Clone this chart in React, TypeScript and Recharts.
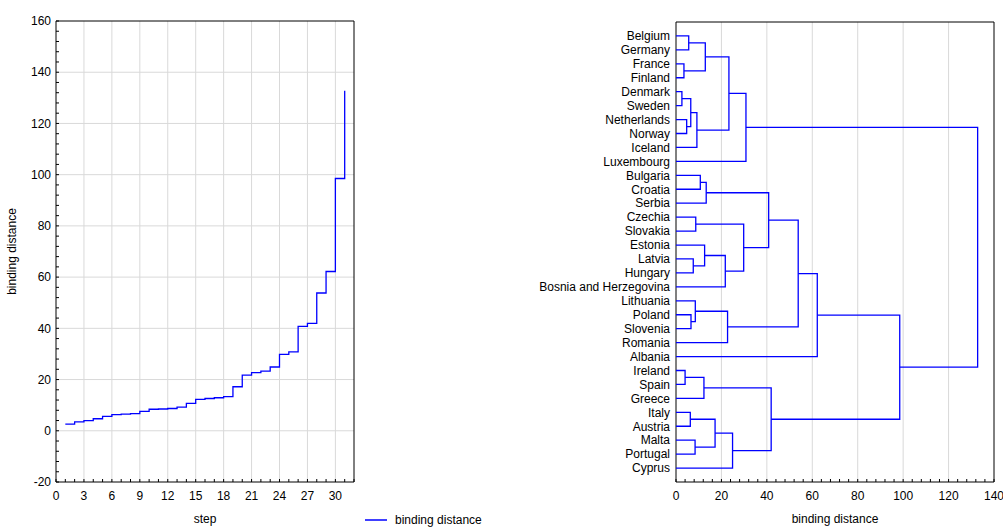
import React from 'react';
import { ComposedChart, Line, Scatter, XAxis, YAxis, CartesianGrid, Legend } from 'recharts';

const FONT = 'Arial, "Liberation Sans", Helvetica, sans-serif';
const BLUE = '#0000ff';
const GRID = '#d9d9d9';
const INK = '#000';

// agglomeration schedule (left panel)
const steps = [1, 2, 3, 4, 5, 6, 7, 8, 9, 10, 11, 12, 13, 14, 15, 16, 17, 18, 19, 20, 21, 22, 23, 24, 25, 26, 27, 28, 29, 30, 31];
const bindingDistance = [
  2.6, 3.5, 4.0, 4.7, 5.6, 6.3, 6.5, 6.7, 7.6, 8.4, 8.5, 8.7, 9.2, 10.7, 12.3, 12.6,
  12.9, 13.3, 17.2, 21.7, 22.7, 23.3, 24.9, 29.8, 30.8, 40.8, 41.9, 53.8, 62.2, 98.5, 132.8,
];

// dendrogram leaves, top to bottom
const countries = [
  'Belgium', 'Germany', 'France', 'Finland', 'Denmark', 'Sweden', 'Netherlands', 'Norway',
  'Iceland', 'Luxembourg', 'Bulgaria', 'Croatia', 'Serbia', 'Czechia', 'Slovakia', 'Estonia',
  'Latvia', 'Hungary', 'Bosnia and Herzegovina', 'Lithuania', 'Poland', 'Slovenia', 'Romania',
  'Albania', 'Ireland', 'Spain', 'Greece', 'Italy', 'Austria', 'Malta', 'Portugal', 'Cyprus',
];

// cluster id, first member, second member, binding distance
const merges: [string, string, string, number][] = [
  ['c1', 'Belgium', 'Germany', 5.6],
  ['c2', 'France', 'Finland', 3.5],
  ['c3', 'c1', 'c2', 12.9],
  ['c4', 'Denmark', 'Sweden', 2.6],
  ['c5', 'Netherlands', 'Norway', 4.7],
  ['c6', 'c4', 'c5', 6.5],
  ['c7', 'c6', 'Iceland', 9.2],
  ['c8', 'c3', 'c7', 23.3],
  ['c9', 'c8', 'Luxembourg', 30.8],
  ['c10', 'Bulgaria', 'Croatia', 10.7],
  ['c11', 'c10', 'Serbia', 13.3],
  ['c12', 'Czechia', 'Slovakia', 8.7],
  ['c13', 'Latvia', 'Hungary', 7.6],
  ['c14', 'Estonia', 'c13', 12.6],
  ['c15', 'c14', 'Bosnia and Herzegovina', 21.7],
  ['c16', 'c12', 'c15', 29.8],
  ['c17', 'c11', 'c16', 40.8],
  ['c18', 'Poland', 'Slovenia', 6.6],
  ['c19', 'Lithuania', 'c18', 8.5],
  ['c20', 'c19', 'Romania', 22.7],
  ['c21', 'c17', 'c20', 53.8],
  ['c22', 'c21', 'Albania', 62.2],
  ['c23', 'Ireland', 'Spain', 4.0],
  ['c24', 'c23', 'Greece', 12.3],
  ['c25', 'Italy', 'Austria', 6.3],
  ['c26', 'Malta', 'Portugal', 8.4],
  ['c27', 'c25', 'c26', 17.2],
  ['c28', 'c27', 'Cyprus', 24.9],
  ['c29', 'c24', 'c28', 41.9],
  ['c30', 'c22', 'c29', 98.5],
  ['c31', 'c9', 'c30', 132.8],
];

// tick labels
const stepTicks = [0, 3, 6, 9, 12, 15, 18, 21, 24, 27, 30];
const distTicks = [-20, 0, 20, 40, 60, 80, 100, 120, 140, 160];
const dendroTicks = [0, 20, 40, 60, 80, 100, 120, 140];

// minor tick positions
const stepMinor = Array.from({ length: 33 }, (_, i) => i);
const distMinor = Array.from({ length: 46 }, (_, i) => -20 + 4 * i);
const dendroMinor = Array.from({ length: 36 }, (_, i) => 4 * i);
const leafTicks = countries.map((_, i) => i);

const scheduleData = steps.map((s, i) => ({ step: s, dist: bindingDistance[i] }));

// each link: child A -> merge height -> child B
const pos: Record<string, number> = {};
const lvl: Record<string, number> = {};
countries.forEach((c, i) => {
  pos[c] = i;
  lvl[c] = 0;
});
const links = merges.map(([id, a, b, h]) => {
  pos[id] = (pos[a] + pos[b]) / 2;
  lvl[id] = h;
  return {
    id,
    points: [
      { x: lvl[a], y: pos[a] },
      { x: h, y: pos[a] },
      { x: h, y: pos[b] },
      { x: lvl[b], y: pos[b] },
    ],
  };
});

const tickStyle = { fill: INK, fontSize: 12 };
const lineStyle = { stroke: INK };

const LegendContent = ({ payload }: any) => (
  <div style={{ display: 'flex', alignItems: 'center', fontSize: 12, fontFamily: FONT, color: INK }}>
    {(payload || []).map((p: any) => (
      <span key={p.value} style={{ display: 'flex', alignItems: 'center' }}>
        <svg width={22} height={4} style={{ display: 'block' }}>
          <line x1={0} y1={2} x2={22} y2={2} stroke={p.color} strokeWidth={1.5} />
        </svg>
        <span style={{ marginLeft: 8 }}>{p.value}</span>
      </span>
    ))}
  </div>
);

const VLabel = ({ viewBox }: any) => {
  const cx = viewBox.x + 12;
  const cy = viewBox.y + viewBox.height / 2;
  return (
    <text
      x={0}
      y={0}
      transform={`translate(${cx},${cy}) rotate(-90)`}
      textAnchor="middle"
      dominantBaseline="central"
      fontSize={12}
      fill={INK}
    >
      binding distance
    </text>
  );
};

function ScheduleChart() {
  return (
    <ComposedChart
      width={500}
      height={527}
      data={scheduleData}
      margin={{ top: 21, right: 146, bottom: 0, left: 0 }}
      style={{ fontFamily: FONT }}
    >
      <CartesianGrid
        stroke={GRID}
        verticalValues={stepTicks.slice(1)}
        horizontalValues={distTicks.slice(1, -1)}
      />
      <XAxis
        dataKey="step"
        type="number"
        domain={[0, 32]}
        allowDataOverflow
        ticks={stepMinor}
        interval={0}
        tickFormatter={(v) => (stepTicks.includes(v) ? String(v) : '')}
        tickSize={-3}
        tickMargin={12.5}
        height={45}
        tick={tickStyle}
        tickLine={lineStyle}
        axisLine={lineStyle}
        label={{ value: 'step', position: 'insideBottom', offset: 4, fill: INK, fontSize: 12 }}
      />
      <XAxis
        xAxisId="top"
        orientation="top"
        mirror
        type="number"
        domain={[0, 32]}
        allowDataOverflow
        ticks={stepMinor}
        interval={0}
        tick={false}
        tickSize={3}
        height={1}
        tickLine={lineStyle}
        axisLine={lineStyle}
      />
      <YAxis
        type="number"
        domain={[-20, 160]}
        allowDataOverflow
        ticks={distMinor}
        interval={0}
        tickFormatter={(v) => (distTicks.includes(v) ? String(v) : '')}
        tickSize={-3}
        tickMargin={8}
        width={56}
        tick={tickStyle}
        tickLine={lineStyle}
        axisLine={lineStyle}
        label={<VLabel />}
      />
      <YAxis
        yAxisId="right"
        orientation="right"
        mirror
        type="number"
        domain={[-20, 160]}
        allowDataOverflow
        ticks={distMinor}
        interval={0}
        tick={false}
        tickSize={3}
        width={1}
        tickLine={lineStyle}
        axisLine={lineStyle}
      />
      <Legend
        layout="vertical"
        align="center"
        verticalAlign="middle"
        wrapperStyle={{ left: 365, top: 513, right: 'auto', bottom: 'auto', width: 'auto' }}
        content={<LegendContent />}
      />
      <Line
        type="stepAfter"
        dataKey="dist"
        name="binding distance"
        stroke={BLUE}
        strokeWidth={1.3}
        dot={false}
        isAnimationActive={false}
      />
    </ComposedChart>
  );
}

function DendrogramChart() {
  return (
    <ComposedChart
      width={503}
      height={527}
      margin={{ top: 22, right: 9, bottom: 0, left: 0 }}
      style={{ fontFamily: FONT }}
    >
      <CartesianGrid stroke={GRID} horizontal={false} verticalValues={dendroTicks.slice(1, -1)} />
      <XAxis
        dataKey="x"
        type="number"
        domain={[0, 140]}
        allowDataOverflow
        ticks={dendroMinor}
        interval={0}
        tickFormatter={(v) => (dendroTicks.includes(v) ? String(v) : '')}
        tickSize={-3}
        tickMargin={12.5}
        height={45}
        tick={tickStyle}
        tickLine={lineStyle}
        axisLine={lineStyle}
        label={{ value: 'binding distance', position: 'insideBottom', offset: 4, fill: INK, fontSize: 12 }}
      />
      <XAxis
        xAxisId="top"
        orientation="top"
        mirror
        type="number"
        domain={[0, 140]}
        allowDataOverflow
        ticks={dendroMinor}
        interval={0}
        tick={false}
        tickSize={3}
        height={1}
        tickLine={lineStyle}
        axisLine={lineStyle}
      />
      <YAxis
        dataKey="y"
        type="number"
        domain={[-1, 32]}
        reversed
        allowDataOverflow
        ticks={leafTicks}
        interval={0}
        tickFormatter={(v) => countries[v] ?? ''}
        tickLine={false}
        tickSize={0}
        tickMargin={6}
        width={176}
        tick={tickStyle}
        axisLine={lineStyle}
      />
      <YAxis
        yAxisId="right"
        orientation="right"
        mirror
        type="number"
        domain={[-1, 32]}
        reversed
        allowDataOverflow
        ticks={leafTicks}
        interval={0}
        tick={false}
        tickSize={3}
        width={1}
        tickLine={lineStyle}
        axisLine={lineStyle}
      />
      {links.map((l) => (
        <Scatter
          key={l.id}
          data={l.points}
          fill={BLUE}
          line={{ stroke: BLUE, strokeWidth: 1.3 }}
          shape={() => <g />}
          legendType="none"
          isAnimationActive={false}
        />
      ))}
    </ComposedChart>
  );
}

export default function App() {
  return (
    <div style={{ position: 'absolute', left: 0, top: 0, width: 1003, height: 527, background: '#fff', fontFamily: FONT }}>
      <div style={{ position: 'absolute', left: 0, top: 0 }}>
        <ScheduleChart />
      </div>
      <div style={{ position: 'absolute', left: 500, top: 0 }}>
        <DendrogramChart />
      </div>
    </div>
  );
}
